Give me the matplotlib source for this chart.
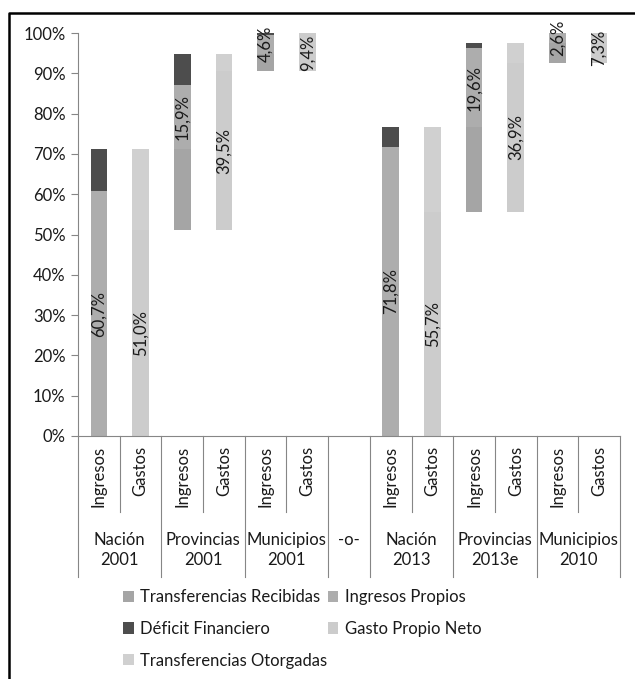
import matplotlib
matplotlib.use("Agg")
import matplotlib.pyplot as plt
import matplotlib.transforms as mtransforms
from matplotlib.lines import Line2D

plt.rcParams["font.family"] = ["Lato", "DejaVu Sans"]

# one slot per bar; slot 6 is the empty "-o-" separator
bar_labels = ["Ingresos", "Gastos"] * 3 + [""] + ["Ingresos", "Gastos"] * 3
groups = ["Nación\n2001", "Provincias\n2001", "Municipios\n2001", "-o-",
          "Nación\n2013", "Provincias\n2013e", "Municipios\n2010"]

# floating offset of each bar (waterfall start), in %
base = [0, 0, 51.0, 51.0, 90.5, 90.5, 0, 0, 0, 55.7, 55.7, 92.6, 92.6]
transf_recibidas = [0, 0, 20.1, 0, 4.4, 0, 0, 0, 0, 20.9, 0, 4.8, 0]
ingresos_propios = [60.7, 0, 15.9, 0, 4.6, 0, 0, 71.8, 0, 19.6, 0, 2.6, 0]
deficit = [10.4, 0, 7.9, 0, 0.5, 0, 0, 4.8, 0, 1.2, 0, 0, 0]
gasto_propio = [0, 51.0, 0, 39.5, 0, 9.4, 0, 0, 55.7, 0, 36.9, 0, 7.3]
transf_otorgadas = [0, 20.1, 0, 4.4, 0, 0, 0, 0, 20.9, 0, 4.8, 0, 0]

C_TR, C_IP, C_DF, C_GP, C_TO = "#a5a5a5", "#adadad", "#4d4d4d", "#cccccc", "#d0d0d0"
AX_COL = "#868686"
TXT = "#1a1a1a"
FS = 12

fig = plt.figure(figsize=(6.35, 6.79), dpi=100)
W, H = 635, 679
ax = fig.add_axes([78 / W, 1 - 436 / H, 542 / W, 403 / H])

x = list(range(len(base)))
w = 0.4

# ingresos stack: transferencias, propios, deficit
bot = list(base)
b_tr = ax.bar(x, transf_recibidas, w, bottom=bot, color=C_TR)
bot = [b + v for b, v in zip(bot, transf_recibidas)]
b_ip = ax.bar(x, ingresos_propios, w, bottom=bot, color=C_IP)
ip_bot = list(bot)
bot = [b + v for b, v in zip(bot, ingresos_propios)]
b_df = ax.bar(x, deficit, w, bottom=bot, color=C_DF)

# gastos stack: propio neto, transferencias otorgadas
bot = list(base)
b_gp = ax.bar(x, gasto_propio, w, bottom=bot, color=C_GP)
gp_bot = list(bot)
bot = [b + v for b, v in zip(bot, gasto_propio)]
b_to = ax.bar(x, transf_otorgadas, w, bottom=bot, color=C_TO)

def fmt(v):
    return f"{v:.1f}%".replace(".", ",")

for vals, bots in [(ingresos_propios, ip_bot), (gasto_propio, gp_bot)]:
    for xi, v, b in zip(x, vals, bots):
        if v:
            ax.text(xi, b + v / 2, fmt(v), rotation=90, ha="center", va="center",
                    fontsize=FS, color=TXT)

ax.set_xlim(-0.5, len(base) - 0.5)
ax.set_ylim(0, 100)
ax.set_yticks(range(0, 101, 10))
ax.set_yticklabels([f"{t}%" for t in range(0, 101, 10)])
ax.tick_params(axis="y", length=5, color=AX_COL, labelsize=FS, pad=4,
               labelcolor=TXT)
ax.set_xticks([])
for s in ["top", "right"]:
    ax.spines[s].set_visible(False)
for s in ["left", "bottom"]:
    ax.spines[s].set_color(AX_COL)
    ax.spines[s].set_linewidth(0.8)

# multi-level category axis
px = 403.0
trans = mtransforms.blended_transform_factory(ax.transData, ax.transAxes)
inner_end = -(512 - 436) / px
outer_end = -(577 - 436) / px
group_edges = [-0.5, 1.5, 3.5, 5.5, 6.5, 8.5, 10.5, 12.5]
for e in group_edges:
    ax.add_line(Line2D([e, e], [0, outer_end], transform=trans, color=AX_COL,
                       lw=0.8, clip_on=False))
for e in [0.5, 2.5, 4.5, 7.5, 9.5, 11.5]:
    ax.add_line(Line2D([e, e], [0, inner_end], transform=trans, color=AX_COL,
                       lw=0.8, clip_on=False))
for xi, lab in zip(x, bar_labels):
    if lab:
        ax.text(xi, -(446 - 436) / px, lab, transform=trans, rotation=90,
                ha="center", va="top", fontsize=FS, color=TXT)
for g, (a, b) in zip(groups, zip(group_edges[:-1], group_edges[1:])):
    if "\n" in g:
        ax.text((a + b) / 2, -(550 - 436) / px, g, transform=trans,
                ha="center", va="center", fontsize=FS, color=TXT,
                linespacing=1.3)
    else:
        ax.text((a + b) / 2, -(540 - 436) / px, g, transform=trans,
                ha="center", va="center", fontsize=FS, color=TXT)

handles = [b_tr, b_df, b_to, b_ip, b_gp]
names = ["Transferencias Recibidas", "Déficit Financiero", "Transferencias Otorgadas",
         "Ingresos Propios", "Gasto Propio Neto"]
fig.legend(handles, names, ncol=2, loc="upper left",
           bbox_to_anchor=(108 / W, 1 - 574 / H), frameon=False, fontsize=FS,
           handlelength=0.65, handleheight=0.65, handletextpad=0.4,
           columnspacing=0.0, labelspacing=0.95, labelcolor=TXT)

# outer frame (only left and top visible in the crop)
fig.add_artist(Line2D([9 / W, 9 / W, 1], [0, 1 - 13 / H, 1 - 13 / H],
                      transform=fig.transFigure, color="black", lw=1.8))

fig.savefig("out.png", dpi=100)
